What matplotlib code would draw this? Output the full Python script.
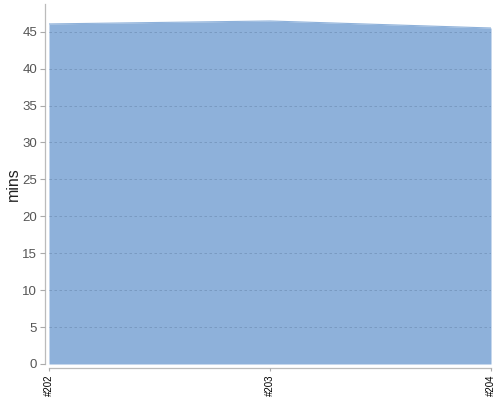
import matplotlib
matplotlib.use("Agg")
import matplotlib.pyplot as plt

builds = ["#202", "#203", "#204"]
mins = [46.05, 46.45, 45.5]
yticks = [0, 5, 10, 15, 20, 25, 30, 35, 40, 45]

plt.rcParams['font.family'] = ['Liberation Sans', 'DejaVu Sans']
fig = plt.figure(figsize=(5, 4), dpi=100)
ax = fig.add_axes([49/500, 36/400, (491-49)/500, (396-36)/400])

for s in ['top', 'right']:
    ax.spines[s].set_visible(False)
for s in ['left', 'bottom']:
    ax.spines[s].set_color('#bbbbbb')
    ax.spines[s].set_linewidth(0.9)
ax.spines['left'].set_position(('outward', 3))
ax.spines['bottom'].set_position(('outward', 3))

x = list(range(len(builds)))
ax.fill_between(x, 0, mins, color='#8eb1da', linewidth=0, zorder=1)
ax.plot(x, mins, color='#8eb1da', linewidth=0.8, zorder=1)

ax.set_xlim(0, len(builds) - 1)
ax.set_ylim(0, 48.75)
ax.set_yticks(yticks)
ax.set_xticks(x)
ax.set_xticklabels(builds, rotation=90, fontsize=7, color='black')
ax.tick_params(axis='y', labelsize=9.5, labelcolor='#555555', length=3.5, width=0.8, color='#aaaaaa', pad=2)
ax.tick_params(axis='x', length=2.5, width=0.8, color='#aaaaaa', pad=2)

ax.grid(axis='y', linestyle=(0, (3, 3)), color='#6f8fb5', linewidth=0.6, alpha=0.8, zorder=2)
ax.set_axisbelow(False)
ax.set_ylabel('mins', fontsize=11.5, color='#222222')
ax.yaxis.set_label_coords(-36/442, 0.5)
ax.yaxis.label.set_horizontalalignment('center')
ax.yaxis.label.set_verticalalignment('center')

fig.savefig('out.png', dpi=100)
